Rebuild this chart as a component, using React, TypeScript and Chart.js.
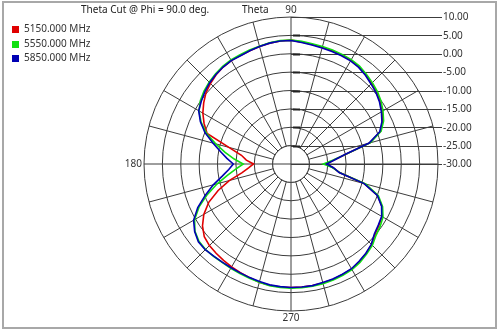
import React, { useEffect, useRef } from "react";
import { Chart, registerables } from "chart.js";

Chart.register(...registerables);

// Theta angles in degrees (0 = right, counter-clockwise), 5° step
const THETA: number[] = Array.from({ length: 72 }, (_, i) => i * 5);

// Gain in dB at each theta above (0,5,10,...,355)
const RED_5150: number[] = [
  -20.5, -18.4, -15.0, -7.8, -4.1, -2.5, -1.4, -0.4, 0.4, 1.0, 1.7, 2.3,
  2.6, 2.7, 2.8, 2.9, 3.0, 3.3, 3.7, 3.6, 3.4, 3.1, 2.8, 2.6,
  2.5, 2.2, 1.7, 1.0, 0.2, -1.0, -2.3, -3.9, -5.7, -12.5, -16.3, -17.8,
  -19.8, -18.5, -16.5, -12.6, -8.9, -5.3, -2.6, -0.6, 0.8, 1.4, 1.7, 2.0,
  2.3, 2.6, 2.9, 3.3, 3.5, 3.6, 3.6, 3.6, 3.6, 3.5, 3.4, 3.2,
  3.0, 2.5, 1.8, 1.0, -0.2, -0.8, -1.4, -2.7, -4.9, -9.3, -16.6, -18.5,
];
const GREEN_5550: number[] = [
  -21.2, -18.6, -14.9, -7.6, -3.9, -2.2, -1.1, -0.1, 0.7, 1.3, 1.9, 2.5,
  2.8, 2.9, 3.0, 3.1, 3.2, 3.5, 3.7, 3.7, 3.5, 3.2, 3.0, 2.8,
  2.7, 2.4, 2.0, 1.5, 0.9, 0.1, -1.1, -3.0, -5.5, -8.8, -11.8, -14.5,
  -17.0, -15.0, -12.5, -9.2, -5.8, -2.4, 0.3, 1.9, 2.7, 2.9, 2.8, 2.7,
  2.8, 2.9, 3.1, 3.3, 3.6, 3.7, 3.8, 3.8, 3.8, 3.7, 3.6, 3.4,
  3.2, 2.7, 2.0, 1.3, 0.2, -0.4, -1.1, -2.5, -4.7, -9.0, -16.5, -18.7,
];
const BLUE_5850: number[] = [
  -20.3, -18.3, -15.1, -8.0, -4.3, -2.7, -1.6, -0.6, 0.2, 0.8, 1.5, 2.1,
  2.4, 2.5, 2.6, 2.7, 2.9, 3.2, 3.6, 3.6, 3.4, 3.1, 2.8, 2.5,
  2.5, 2.2, 1.8, 1.3, 0.6, -0.2, -1.0, -2.8, -5.1, -8.0, -10.5, -12.5,
  -14.3, -13.0, -11.0, -8.1, -5.2, -2.0, 0.6, 2.0, 2.9, 3.0, 2.7, 2.6,
  2.6, 2.7, 2.9, 3.1, 3.4, 3.5, 3.6, 3.6, 3.6, 3.4, 3.3, 3.1,
  2.9, 2.3, 1.7, 0.9, -0.4, -1.0, -1.5, -2.8, -5.0, -9.4, -16.7, -18.4,
];

const SERIES_NAMES: string[] = ["5150.000 MHz", "5550.000 MHz", "5850.000 MHz"];
const SERIES_COLORS: string[] = ["#e00000", "#10e010", "#0000b4"];

const TICK_VALUES: number[] = [10, 5, 0, -5, -10, -15, -20, -25, -30];
const TICK_LABELS: string[] = ["10.00", "5.00", "0.00", "-5.00", "-10.00", "-15.00", "-20.00", "-25.00", "-30.00"];
const AXIS_LABELS: { theta: number; text: string }[] = [
  { theta: 90, text: "90" },
  { theta: 180, text: "180" },
  { theta: 270, text: "270" },
];
const TITLE = "Theta Cut @ Phi = 90.0 deg.";
const SUBTITLE = "Theta";

// Radar goes clockwise from the top: theta 90, 85, ..., 0, 355, ..., 95
const ORDER: number[] = THETA.map((_, i) => (90 - i * 5 + 360) % 360);
const pick = (arr: number[]) => ORDER.map((t) => arr[THETA.indexOf(t)]);

const FONT = '10px "Noto Sans", "Open Sans", sans-serif';
const GRID = "#3c3c3c";

const overlayPlugin = {
  id: "overlay",
  beforeDraw(chart: any) {
    const ctx = chart.ctx;
    ctx.save();
    ctx.fillStyle = "#ffffff";
    ctx.fillRect(0, 0, chart.width, chart.height);
    ctx.strokeStyle = "#a8a8a8";
    ctx.lineWidth = 2;
    ctx.strokeRect(3, 2, 493, 326);
    ctx.restore();
  },
  beforeDatasetsDraw(chart: any) {
    const ctx = chart.ctx;
    const s = chart.scales.r;
    const cx = s.xCenter;
    const cy = s.yCenter;
    const R = s.getDistanceFromCenterForValue(10);
    const r25 = s.getDistanceFromCenterForValue(-25);
    ctx.save();
    // hollow centre
    ctx.fillStyle = "#ffffff";
    ctx.beginPath();
    ctx.arc(cx, cy, r25, 0, Math.PI * 2);
    ctx.fill();
    ctx.strokeStyle = GRID;
    ctx.lineWidth = 1;
    ctx.beginPath();
    ctx.arc(cx, cy, r25, 0, Math.PI * 2);
    ctx.stroke();
    ctx.beginPath();
    ctx.moveTo(cx - r25, cy);
    ctx.lineTo(cx + r25, cy);
    ctx.moveTo(cx, cy - r25);
    ctx.lineTo(cx, cy + r25);
    ctx.stroke();
    // leader lines to tick labels
    const xEnd = cx + R + 4;
    ctx.beginPath();
    TICK_VALUES.forEach((v) => {
      const y = Math.round(cy - s.getDistanceFromCenterForValue(v)) + 0.5;
      ctx.moveTo(cx, y);
      ctx.lineTo(xEnd, y);
    });
    ctx.stroke();
    ctx.lineWidth = 2;
    ctx.strokeStyle = "#222";
    ctx.beginPath();
    TICK_VALUES.slice(1, -1).forEach((v) => {
      const y = Math.round(cy - s.getDistanceFromCenterForValue(v)) + 0.5;
      ctx.moveTo(cx + 2, y);
      ctx.lineTo(cx + 9, y);
    });
    ctx.stroke();
    // tick labels
    ctx.fillStyle = "#333";
    ctx.font = FONT;
    ctx.textAlign = "left";
    ctx.textBaseline = "middle";
    TICK_VALUES.forEach((v, i) => {
      const y = cy - s.getDistanceFromCenterForValue(v);
      ctx.fillText(TICK_LABELS[i], xEnd + 1, y + 0.5);
    });
    // axis labels
    AXIS_LABELS.forEach(({ theta, text }) => {
      const idx = ORDER.indexOf(theta);
      const p = s.getPointPosition(idx, R + 2);
      if (theta === 90) {
        ctx.textAlign = "center";
        ctx.textBaseline = "bottom";
      } else if (theta === 180) {
        ctx.textAlign = "right";
        ctx.textBaseline = "middle";
      } else {
        ctx.textAlign = "center";
        ctx.textBaseline = "top";
      }
      ctx.fillText(text, p.x, p.y);
    });
    // title
    ctx.textAlign = "left";
    ctx.textBaseline = "middle";
    ctx.fillStyle = "#222";
    ctx.fillText(TITLE, 81, 10);
    ctx.fillText(SUBTITLE, 242, 10);
    // legend
    SERIES_NAMES.forEach((name, i) => {
      const y = 29.5 + i * 14.5;
      ctx.fillStyle = SERIES_COLORS[i];
      ctx.fillRect(12, Math.round(y - 3.5), 7, 7);
      ctx.fillStyle = "#333";
      ctx.fillText(name, 24, y);
    });
    ctx.restore();
  },
};

export default function App() {
  const ref = useRef<HTMLCanvasElement | null>(null);
  useEffect(() => {
    if (!ref.current) return;
    const chart = new Chart(ref.current, {
      type: "radar",
      data: {
        labels: ORDER.map((t) => String(t)),
        datasets: [
          { label: SERIES_NAMES[0], data: pick(RED_5150), borderColor: SERIES_COLORS[0], order: 3 },
          { label: SERIES_NAMES[1], data: pick(GREEN_5550), borderColor: SERIES_COLORS[1], order: 2 },
          { label: SERIES_NAMES[2], data: pick(BLUE_5850), borderColor: SERIES_COLORS[2], order: 1 },
        ].map((d) => ({ ...d, fill: false, pointRadius: 0, borderWidth: 1.6, tension: 0 })),
      },
      options: {
        animation: false,
        responsive: false,
        layout: { padding: { left: 144, top: 17, right: 62, bottom: 22 } },
        plugins: {
          legend: { display: false },
          title: { display: false },
          tooltip: { enabled: false },
        },
        scales: {
          r: {
            min: -30,
            max: 10,
            ticks: { display: false, stepSize: 5 },
            grid: { circular: true, color: GRID, lineWidth: 1 },
            angleLines: {
              display: true,
              lineWidth: 1,
              color: (c: any) => (ORDER[c.index] % 15 === 0 ? GRID : "rgba(0,0,0,0)"),
            },
            pointLabels: { display: false },
          },
        },
      },
      plugins: [overlayPlugin],
    } as any);
    return () => chart.destroy();
  }, []);
  return (
    <div style={{ position: "absolute", left: 0, top: 0, width: 500, height: 333, background: "#fff" }}>
      <canvas ref={ref} width={500} height={333} style={{ display: "block" }} />
    </div>
  );
}
